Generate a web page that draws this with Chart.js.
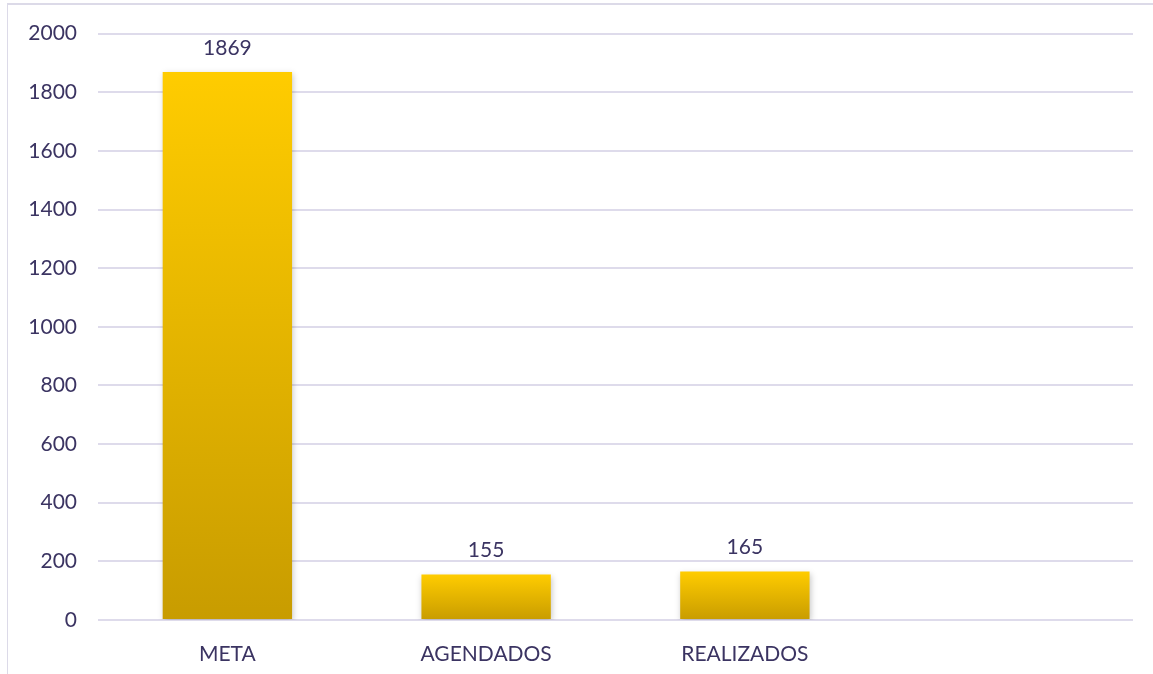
<!DOCTYPE html>
<html>
<head>
<meta charset="utf-8">
<script src="https://cdn.jsdelivr.net/npm/chart.js@4"></script>
<style>
  body { margin: 0; background: #fff; }
  #frame { position: absolute; left: 7px; top: 3px; width: 1160px; height: 690px;
           border-left: 1px solid #dcdae8; border-top: 2px solid #dcdae8; }
  #wrap { position: absolute; left: 0; top: 0; width: 1153px; height: 674px; }
</style>
</head>
<body>
<div id="frame"></div>
<div id="wrap"><canvas id="myChart"></canvas></div>
<script>
  const categories = ["META", "AGENDADOS", "REALIZADOS", ""];
  const values = [1869, 155, 165, null];
  const yTicks = [0, 200, 400, 600, 800, 1000, 1200, 1400, 1600, 1800, 2000];

  const textColor = "#3b3462";
  const gridColor = "#dedbeb";

  // each bar gets its own vertical gradient, bright on top, darker at the base
  function barGradient(c) {
    const chart = c.chart;
    const area = chart.chartArea;
    if (!area || c.raw == null) return "#ffcc00";
    const top = chart.scales.y.getPixelForValue(c.raw);
    const bottom = chart.scales.y.getPixelForValue(0);
    const g = chart.ctx.createLinearGradient(0, top, 0, bottom);
    g.addColorStop(0, "#ffcc00");
    g.addColorStop(1, "#c89c00");
    return g;
  }

  // soft shadow behind bars
  const barShadow = {
    id: "barShadow",
    beforeDatasetsDraw(chart) {
      const ctx = chart.ctx;
      ctx.save();
      ctx.shadowColor = "rgba(0,0,0,0.22)";
      ctx.shadowBlur = 6;
      ctx.shadowOffsetX = 1;
      ctx.shadowOffsetY = 2;
    },
    afterDatasetsDraw(chart) {
      chart.ctx.restore();
    }
  };

  // value printed above each bar
  const valueLabels = {
    id: "valueLabels",
    afterDatasetsDraw(chart) {
      const ctx = chart.ctx;
      const meta = chart.getDatasetMeta(0);
      ctx.save();
      ctx.font = "21px Lato";
      ctx.fillStyle = textColor;
      ctx.textAlign = "center";
      ctx.textBaseline = "middle";
      meta.data.forEach(function (bar, i) {
        if (values[i] == null) return;
        ctx.fillText(String(values[i]), bar.x, bar.y - 24);
      });
      ctx.restore();
    }
  };

  new Chart("myChart", {
    type: "bar",
    data: {
      labels: categories,
      datasets: [{
        data: values,
        backgroundColor: barGradient,
        borderWidth: 0,
        categoryPercentage: 1,
        barPercentage: 0.5
      }]
    },
    options: {
      responsive: true,
      maintainAspectRatio: false,
      animation: false,
      layout: { padding: { top: 33, right: 20, bottom: 0, left: 0 } },
      plugins: {
        legend: { display: false },
        tooltip: { enabled: false }
      },
      scales: {
        x: {
          grid: { display: false },
          border: { display: false },
          ticks: { color: textColor, font: { family: "Lato", size: 21 }, padding: 14 },
          afterFit(scale) { scale.height = 54; }
        },
        y: {
          min: 0,
          max: 2000,
          afterBuildTicks(scale) { scale.ticks = yTicks.map(v => ({ value: v })); },
          grid: { color: gridColor, lineWidth: 2, drawTicks: false },
          border: { display: false },
          ticks: {
            color: textColor,
            font: { family: "Lato", size: 21 },
            padding: 21,
            callback: v => String(v)
          },
          afterFit(scale) { scale.width = 98; }
        }
      }
    },
    plugins: [barShadow, valueLabels]
  });
</script>
</body>
</html>
